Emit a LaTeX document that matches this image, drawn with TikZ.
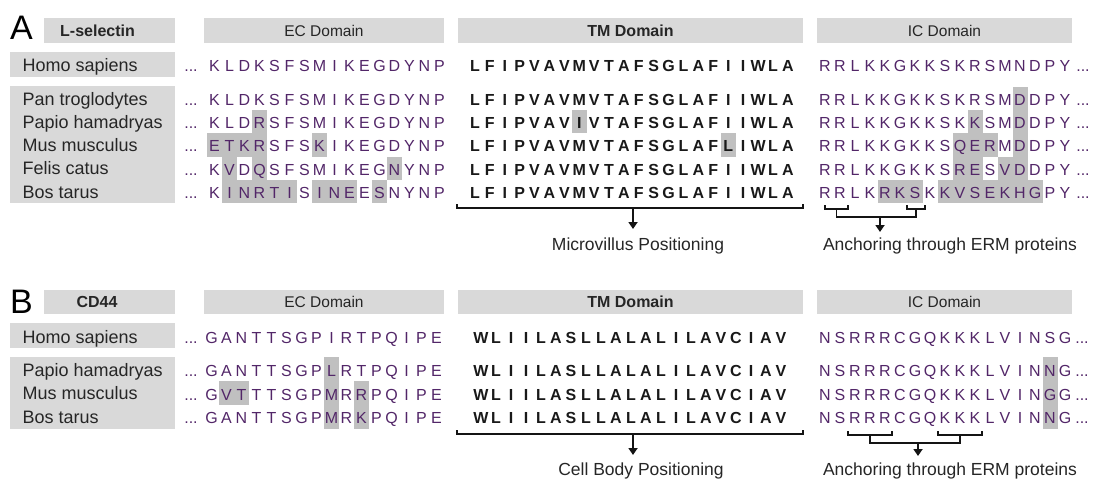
\documentclass[tikz,border=0pt]{standalone}
\usepackage{fontspec}
\setmainfont{Liberation Sans}
\usetikzlibrary{arrows.meta}
\definecolor{boxgray}{RGB}{217,217,217}
\definecolor{hlgray}{RGB}{192,192,192}
\definecolor{seqcol}{RGB}{82,38,104}
\definecolor{tmcol}{RGB}{25,25,25}
\definecolor{txtcol}{RGB}{38,38,38}
\newcommand\seqrow[6]{% #1 name, #2 x0, #3 pitch, #4 baseline, #5 style, #6 letters
  \foreach \ltr [count=\i] in {#6} {
    \node[#5] (#1-\i) at ({#2+(\i-0.5)*#3},#4) {\ltr};
  }%
}
\newcommand\hlcell[6]{% x0, pitch, c1, c2, ytop, ybot
  \fill[hlgray] ({#1+(#3-1)*#2},#5) rectangle ({#1+#4*#2},#6);%
}
\begin{document}
\begin{tikzpicture}[x=1pt,y=-1pt,
  ecseq/.style={font=\fontsize{16}{18}\selectfont, text=seqcol, anchor=base, inner sep=0pt},
  tmseq/.style={font=\bfseries\fontsize{16}{18}\selectfont, text=tmcol, anchor=base, inner sep=0pt},
  dots/.style={font=\fontsize{16}{18}\selectfont, text=seqcol, anchor=base, inner sep=0pt},
  species/.style={font=\fontsize{18}{20}\selectfont, text=txtcol, anchor=base west, inner sep=0pt},
  hdrbox/.style={fill=boxgray, draw=none, inner sep=0pt},
  hdrtxt/.style={font=\fontsize{15.5}{17}\selectfont, text=txtcol, inner sep=0pt},
  hdrbold/.style={font=\bfseries\fontsize{16}{18}\selectfont, text=txtcol, inner sep=0pt},
  panel/.style={font=\fontsize{34}{36}\selectfont, text=black, anchor=base west, inner sep=0pt},
  note/.style={font=\fontsize{17.5}{20}\selectfont, text=txtcol, anchor=base, inner sep=0pt},
  brk/.style={line width=1.9pt, draw=black!92},
  arr/.style={line width=1.9pt, draw=black!92, -{Triangle[width=9pt,length=7pt]}}
]
\useasboundingbox (0,0) rectangle (1094,481);

% ================= Panel A =================
\node[panel] (labA) at (10,40) {A};
\node[hdrbox, minimum width=131pt, minimum height=25pt] (selbox) at (109.5,30.5) {};
\node[hdrbold] (seltxt) at (97.5,30.5) {L-selectin};
\node[hdrbox, minimum width=240pt, minimum height=25pt] (ecA) at (324,30.5) {};
\node[hdrtxt] (ecAt) at (324,30.5) {EC Domain};
\node[hdrbox, minimum width=345pt, minimum height=25pt] (tmA) at (630.5,30.5) {};
\node[hdrbold] (tmAt) at (630.5,30.5) {TM Domain};
\node[hdrbox, minimum width=255pt, minimum height=25pt] (icA) at (944.5,30.5) {};
\node[hdrtxt] (icAt) at (944.5,30.5) {IC Domain};

\node[hdrbox, minimum width=165pt, minimum height=25pt] (homoboxA) at (92.5,64.5) {};
\node[hdrbox, minimum width=165pt, minimum height=117pt] (spboxA) at (92.5,144.5) {};

% highlights A
\hlcell{207}{15}{4}{4}{110}{203}
\hlcell{207}{15}{1}{3}{133.3}{156.6}
\hlcell{207}{15}{8}{8}{133.3}{156.6}
\hlcell{207}{15}{2}{2}{156.6}{180}
\hlcell{207}{15}{13}{13}{156.6}{180}
\hlcell{207}{15}{2}{6}{180}{203}
\hlcell{207}{15}{8}{10}{180}{203}
\hlcell{207}{15}{12}{12}{180}{203}
\hlcell{467.5}{14.9}{8}{8}{110}{133.3}
\hlcell{467.5}{14.9}{18}{18}{133.3}{156.6}
\hlcell{817.5}{15}{14}{14}{87}{180}
\hlcell{817.5}{15}{11}{11}{110}{133.3}
\hlcell{817.5}{15}{10}{12}{133.3}{156.6}
\hlcell{817.5}{15}{10}{11}{156.6}{180}
\hlcell{817.5}{15}{13}{13}{156.6}{180}
\hlcell{817.5}{15}{5}{7}{180}{203}
\hlcell{817.5}{15}{9}{15}{180}{203}

% species A
\node[species] (spA1) at (22.5,72) {Homo sapiens};
\node[species] (spA2) at (22.5,105.5) {Pan troglodytes};
\node[species] (spA3) at (22.5,128.5) {Papio hamadryas};
\node[species] (spA4) at (22.5,151.5) {Mus musculus};
\node[species] (spA5) at (22.5,175) {Felis catus};
\node[species] (spA6) at (22.5,198) {Bos tarus};

% sequences A
\foreach \r/\yy in {1/72,2/105.5,3/128.7,4/152,5/175.3,6/198.5}{
  \node[dots] (dlA\r) at (191,\yy) {...};
  \node[dots] (drA\r) at (1083,\yy) {...};
}
\seqrow{ecA1}{207}{15}{72}{ecseq}{K,L,D,K,S,F,S,M,I,K,E,G,D,Y,N,P}
\seqrow{ecA2}{207}{15}{105.5}{ecseq}{K,L,D,K,S,F,S,M,I,K,E,G,D,Y,N,P}
\seqrow{ecA3}{207}{15}{128.7}{ecseq}{K,L,D,R,S,F,S,M,I,K,E,G,D,Y,N,P}
\seqrow{ecA4}{207}{15}{152}{ecseq}{E,T,K,R,S,F,S,K,I,K,E,G,D,Y,N,P}
\seqrow{ecA5}{207}{15}{175.3}{ecseq}{K,V,D,Q,S,F,S,M,I,K,E,G,N,Y,N,P}
\seqrow{ecA6}{207}{15}{198.5}{ecseq}{K,I,N,R,T,I,S,I,N,E,E,S,N,Y,N,P}

\seqrow{tmA1}{467.5}{14.9}{72}{tmseq}{L,F,I,P,V,A,V,M,V,T,A,F,S,G,L,A,F,I,I,W,L,A}
\seqrow{tmA2}{467.5}{14.9}{105.5}{tmseq}{L,F,I,P,V,A,V,M,V,T,A,F,S,G,L,A,F,I,I,W,L,A}
\seqrow{tmA3}{467.5}{14.9}{128.7}{tmseq}{L,F,I,P,V,A,V,I,V,T,A,F,S,G,L,A,F,I,I,W,L,A}
\seqrow{tmA4}{467.5}{14.9}{152}{tmseq}{L,F,I,P,V,A,V,M,V,T,A,F,S,G,L,A,F,L,I,W,L,A}
\seqrow{tmA5}{467.5}{14.9}{175.3}{tmseq}{L,F,I,P,V,A,V,M,V,T,A,F,S,G,L,A,F,I,I,W,L,A}
\seqrow{tmA6}{467.5}{14.9}{198.5}{tmseq}{L,F,I,P,V,A,V,M,V,T,A,F,S,G,L,A,F,I,I,W,L,A}

\seqrow{icA1}{817.5}{15}{72}{ecseq}{R,R,L,K,K,G,K,K,S,K,R,S,M,N,D,P,Y}
\seqrow{icA2}{817.5}{15}{105.5}{ecseq}{R,R,L,K,K,G,K,K,S,K,R,S,M,D,D,P,Y}
\seqrow{icA3}{817.5}{15}{128.7}{ecseq}{R,R,L,K,K,G,K,K,S,K,K,S,M,D,D,P,Y}
\seqrow{icA4}{817.5}{15}{152}{ecseq}{R,R,L,K,K,G,K,K,S,Q,E,R,M,D,D,P,Y}
\seqrow{icA5}{817.5}{15}{175.3}{ecseq}{R,R,L,K,K,G,K,K,S,R,E,S,V,D,D,P,Y}
\seqrow{icA6}{817.5}{15}{198.5}{ecseq}{R,R,L,K,R,K,S,K,K,V,S,E,K,H,G,P,Y}

% brackets A
\coordinate (tbA1) at (457,204);
\coordinate (tbA2) at (803,204);
\draw[brk] (tbA1) -- ++(0,4) -- ([yshift=-4pt]tbA2) -- (tbA2);
\coordinate (tsA) at (633,208);
\node[note] (mvA) at (638,250) {Microvillus Positioning};
\coordinate (taA) at (633,229);
\draw[arr] (tsA) -- (taA);

\coordinate (ib1a) at (825,205);
\coordinate (ib1b) at (848,205);
\coordinate (ib2a) at (907,205);
\coordinate (ib2b) at (925,205);
\draw[brk] (ib1a) -- ++(0,4) -- ([yshift=-4pt]ib1b) -- (ib1b);
\draw[brk] (ib2a) -- ++(0,4) -- ([yshift=-4pt]ib2b) -- (ib2b);
\coordinate (ij1) at (836.5,217);
\coordinate (ij2) at (916,217);
\draw[brk] (836.5,209) -- (ij1) -- (ij2) -- (916,209);
\coordinate (iaA) at (880,232);
\draw[arr] (880,217) -- (iaA);
\node[note] (anA) at (950,250) {Anchoring through ERM proteins};

% ================= Panel B =================
\node[panel] (labB) at (10,313) {B};
\node[hdrbox, minimum width=131pt, minimum height=24pt] (cdbox) at (109.5,302) {};
\node[hdrbold] (cdtxt) at (97,302) {CD44};
\node[hdrbox, minimum width=240pt, minimum height=24pt] (ecB) at (324,302) {};
\node[hdrtxt] (ecBt) at (324,302) {EC Domain};
\node[hdrbox, minimum width=345pt, minimum height=24pt] (tmB) at (630.5,302) {};
\node[hdrbold] (tmBt) at (630.5,302) {TM Domain};
\node[hdrbox, minimum width=255pt, minimum height=24pt] (icB) at (944.5,302) {};
\node[hdrtxt] (icBt) at (944.5,302) {IC Domain};

\node[hdrbox, minimum width=165pt, minimum height=25pt] (homoboxB) at (92.5,335.5) {};
\node[hdrbox, minimum width=165pt, minimum height=72pt] (spboxB) at (92.5,393) {};

% highlights B
\hlcell{204}{15}{9}{9}{357}{429}
\hlcell{204}{15}{2}{3}{381}{405}
\hlcell{204}{15}{11}{11}{381}{429}
\hlcell{817.5}{15}{16}{16}{357}{429}

\node[species] (spB1) at (22.5,343) {Homo sapiens};
\node[species] (spB2) at (22.5,376) {Papio hamadryas};
\node[species] (spB3) at (22.5,399.5) {Mus musculus};
\node[species] (spB4) at (22.5,423) {Bos tarus};

\foreach \r/\yy in {1/343,2/376,3/400,4/423.5}{
  \node[dots] (dlB\r) at (191,\yy) {...};
  \node[dots] (drB\r) at (1082,\yy) {...};
}
\seqrow{ecB1}{204}{15}{343}{ecseq}{G,A,N,T,T,S,G,P,I,R,T,P,Q,I,P,E}
\seqrow{ecB2}{204}{15}{376}{ecseq}{G,A,N,T,T,S,G,P,L,R,T,P,Q,I,P,E}
\seqrow{ecB3}{204}{15}{400}{ecseq}{G,V,T,T,T,S,G,P,M,R,R,P,Q,I,P,E}
\seqrow{ecB4}{204}{15}{423.5}{ecseq}{G,A,N,T,T,S,G,P,M,R,K,P,Q,I,P,E}

\seqrow{tmB1}{473.5}{15}{343}{tmseq}{W,L,I,I,L,A,S,L,L,A,L,A,L,I,L,A,V,C,I,A,V}
\seqrow{tmB2}{473.5}{15}{376}{tmseq}{W,L,I,I,L,A,S,L,L,A,L,A,L,I,L,A,V,C,I,A,V}
\seqrow{tmB3}{473.5}{15}{400}{tmseq}{W,L,I,I,L,A,S,L,L,A,L,A,L,I,L,A,V,C,I,A,V}
\seqrow{tmB4}{473.5}{15}{423.5}{tmseq}{W,L,I,I,L,A,S,L,L,A,L,A,L,I,L,A,V,C,I,A,V}

\seqrow{icB1}{817.5}{15}{343}{ecseq}{N,S,R,R,R,C,G,Q,K,K,K,L,V,I,N,S,G}
\seqrow{icB2}{817.5}{15}{376}{ecseq}{N,S,R,R,R,C,G,Q,K,K,K,L,V,I,N,N,G}
\seqrow{icB3}{817.5}{15}{400}{ecseq}{N,S,R,R,R,C,G,Q,K,K,K,L,V,I,N,G,G}
\seqrow{icB4}{817.5}{15}{423.5}{ecseq}{N,S,R,R,R,C,G,Q,K,K,K,L,V,I,N,N,G}

% brackets B
\coordinate (tbB1) at (457,430);
\coordinate (tbB2) at (803,430);
\draw[brk] (tbB1) -- ++(0,4) -- ([yshift=-4pt]tbB2) -- (tbB2);
\coordinate (tsB) at (633,434);
\coordinate (taB) at (633,455);
\draw[arr] (tsB) -- (taB);
\node[note] (cbB) at (641,475) {Cell Body Positioning};

\coordinate (jb1a) at (848,431);
\coordinate (jb1b) at (892,431);
\coordinate (jb2a) at (938,431);
\coordinate (jb2b) at (982,431);
\draw[brk] (jb1a) -- ++(0,4) -- ([yshift=-4pt]jb1b) -- (jb1b);
\draw[brk] (jb2a) -- ++(0,4) -- ([yshift=-4pt]jb2b) -- (jb2b);
\coordinate (jj1) at (870,443);
\coordinate (jj2) at (960,443);
\draw[brk] (870,435) -- (jj1) -- (jj2) -- (960,435);
\coordinate (jaB) at (918,456);
\draw[arr] (918,443) -- (jaB);
\node[note] (anB) at (950,475) {Anchoring through ERM proteins};
\end{tikzpicture}
\end{document}
